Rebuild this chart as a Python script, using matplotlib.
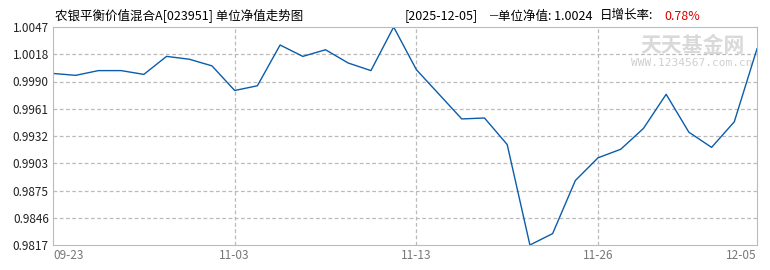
import numpy as np
import matplotlib.pyplot as plt

plt.rcParams['font.family'] = ['Noto Sans CJK SC', 'DejaVu Sans']

dates = ['09-23', '09-26', '09-30', '10-10', '10-17', '10-24', '10-27', '10-31',
         '11-03', '11-04', '11-05', '11-06', '11-07', '11-10', '11-11', '11-12',
         '11-13', '11-17', '11-18', '11-19', '11-20', '11-21', '11-24', '11-25',
         '11-26', '11-27', '11-28', '12-01', '12-02', '12-03', '12-04', '12-05']
nav = [0.9998, 0.9996, 1.0001, 1.0001, 0.9997, 1.0016, 1.0013, 1.0006,
       0.9980, 0.9985, 1.0028, 1.0016, 1.0023, 1.0009, 1.0001, 1.0047,
       1.0002, 0.9976, 0.9950, 0.9951, 0.9923, 0.9817, 0.9829, 0.9885,
       0.9909, 0.9918, 0.9940, 0.9976, 0.9936, 0.9920, 0.9947, 1.0024]
tick_idx = [0, 8, 16, 24, 31]
ytick_labels = ['0.9817', '0.9846', '0.9875', '0.9903', '0.9932',
                '0.9961', '0.9990', '1.0018', '1.0047']
title = '农银平衡价值混合A[023951] 单位净值走势图'
last_date = '2025-12-05'
last_nav = '1.0024'
day_rate = '0.78%'

fig = plt.figure(figsize=(7.7, 2.7), dpi=100)
ax = fig.add_axes([53 / 770, 25 / 270, 704 / 770, 218 / 270])

x = np.arange(len(nav))
ax.plot(x, nav, color='#0b5caa', lw=1.0)

ymin, ymax = 0.9817, 1.0047
ax.set_xlim(0, len(nav) - 1)
ax.set_ylim(ymin, ymax)
yt = np.linspace(ymin, ymax, 9)
ax.set_yticks(yt)
ax.set_yticklabels(ytick_labels, fontsize=8.5, color='#222')
ax.set_xticks(tick_idx)
ax.set_xticklabels([dates[i] for i in tick_idx], fontsize=8.5, color='#777')
lbls = ax.get_xticklabels()
lbls[0].set_horizontalalignment('left')
lbls[-1].set_horizontalalignment('right')
ax.tick_params(length=0, pad=3)

for v in yt[1:-1]:
    ax.axhline(v, color='#bbbbbb', lw=0.9, ls=(0, (3, 2)), zorder=0)
for i in tick_idx[1:-1]:
    ax.axvline(i, color='#bbbbbb', lw=0.9, ls=(0, (3, 2)), zorder=0)

for s in ax.spines.values():
    s.set_color('#bbbbbb')

# watermark
ax.text(0.908, 0.917, '天天基金网', transform=ax.transAxes, fontsize=15,
        color='#d9d9d9', ha='center', va='center', weight='bold', zorder=0)
ax.text(0.908, 0.835, 'WWW.1234567.com.cn', transform=ax.transAxes, fontsize=8,
        family='DejaVu Sans Mono', color='#cfcfcf', ha='center', va='center', zorder=0)

fig.text(55 / 770, 1 - 16 / 270, title, fontsize=9, va='center', ha='left')
fig.text(405 / 770, 1 - 16 / 270, '[' + last_date + ']', fontsize=9, va='center', ha='left')
fig.text(490 / 770, 1 - 16 / 270, '━', fontsize=6, va='center', ha='left', color='#0b5caa')
fig.text(498 / 770, 1 - 16 / 270, '单位净值: ' + last_nav, fontsize=9, va='center', ha='left')
fig.text(600 / 770, 1 - 16 / 270, '日增长率:', fontsize=9, va='center', ha='left')
fig.text(664 / 770, 1 - 16 / 270, day_rate, fontsize=9, va='center', ha='left', color='#dd0000')

fig.savefig('out.png', dpi=100)
